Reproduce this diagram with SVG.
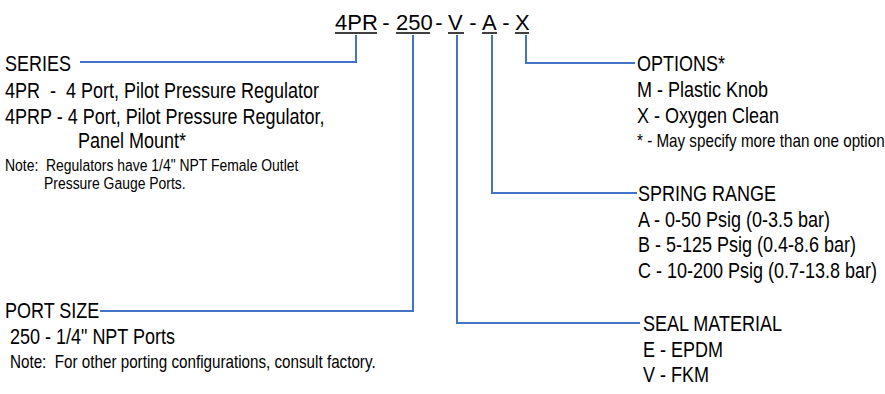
<svg xmlns="http://www.w3.org/2000/svg" width="885" height="394" viewBox="0 0 885 394">
<style>
text{font-family:"Liberation Sans",Arial,sans-serif;fill:#000}
.t{font-size:22px}
.b{font-size:22.5px}
.s{font-size:17px}
.n{font-size:18px}
.c{fill:none;stroke:#4472C4;stroke-width:2}
.u{stroke:#000;stroke-width:1.5}
</style>
<rect width="885" height="394" fill="#fff"/>
<g id="title">
<text class="t" x="335" y="30">4PR</text>
<text class="t" x="386" y="30" text-anchor="middle">-</text>
<text class="t" x="396" y="30">250</text>
<text class="t" x="439" y="30" text-anchor="middle">-</text>
<text class="t" x="448" y="30">V</text>
<text class="t" x="473" y="30" text-anchor="middle">-</text>
<text class="t" x="482" y="30">A</text>
<text class="t" x="506" y="30" text-anchor="middle">-</text>
<text class="t" x="515" y="30">X</text>
<line class="u" x1="335" y1="33" x2="377" y2="33"/>
<line class="u" x1="396" y1="33" x2="430" y2="33"/>
<line class="u" x1="448" y1="33" x2="464" y2="33"/>
<line class="u" x1="482" y1="33" x2="497" y2="33"/>
<line class="u" x1="515" y1="33" x2="529" y2="33"/>
</g>
<g id="connectors">
<path class="c" d="M356,35 V62 H80"/>
<path class="c" d="M413,35 V311 H100"/>
<path class="c" d="M457,35 V323 H640"/>
<path class="c" d="M492,35 V193 H637"/>
<path class="c" d="M526,35 V63 H635"/>
</g>
<g id="series">
<text class="b" transform="translate(5,71) scale(0.8,1)">SERIES</text>
<text class="b" transform="translate(5,98) scale(0.8,1)" xml:space="preserve">4PR  -  4 Port, Pilot Pressure Regulator</text>
<text class="b" transform="translate(5,124) scale(0.8,1)">4PRP - 4 Port, Pilot Pressure Regulator,</text>
<text class="b" transform="translate(78,148) scale(0.8,1)">Panel Mount*</text>
<text class="s" transform="translate(5,171) scale(0.82,1)" xml:space="preserve">Note:  Regulators have 1/4" NPT Female Outlet</text>
<text class="s" transform="translate(44,189) scale(0.82,1)">Pressure Gauge Ports.</text>
</g>
<g id="port-size">
<text class="b" transform="translate(5,318) scale(0.8,1)">PORT SIZE</text>
<text class="b" transform="translate(10,344) scale(0.8,1)">250 - 1/4" NPT Ports</text>
<text class="n" transform="translate(10,368) scale(0.845,1)" xml:space="preserve">Note:  For other porting configurations, consult factory.</text>
</g>
<g id="options">
<text class="b" transform="translate(637,71) scale(0.8,1)">OPTIONS*</text>
<text class="b" transform="translate(637,97) scale(0.8,1)">M - Plastic Knob</text>
<text class="b" transform="translate(637,123) scale(0.8,1)">X - Oxygen Clean</text>
<text class="n" transform="translate(637,147) scale(0.845,1)">* - May specify more than one option</text>
</g>
<g id="spring-range">
<text class="b" transform="translate(638,201) scale(0.8,1)">SPRING RANGE</text>
<text class="b" transform="translate(638,227) scale(0.8,1)">A - 0-50 Psig (0-3.5 bar)</text>
<text class="b" transform="translate(638,252) scale(0.8,1)">B - 5-125 Psig (0.4-8.6 bar)</text>
<text class="b" transform="translate(638,278) scale(0.8,1)">C - 10-200 Psig (0.7-13.8 bar)</text>
</g>
<g id="seal-material">
<text class="b" transform="translate(643,331) scale(0.8,1)">SEAL MATERIAL</text>
<text class="b" transform="translate(643,357) scale(0.8,1)">E - EPDM</text>
<text class="b" transform="translate(643,382) scale(0.8,1)">V - FKM</text>
</g>
</svg>
